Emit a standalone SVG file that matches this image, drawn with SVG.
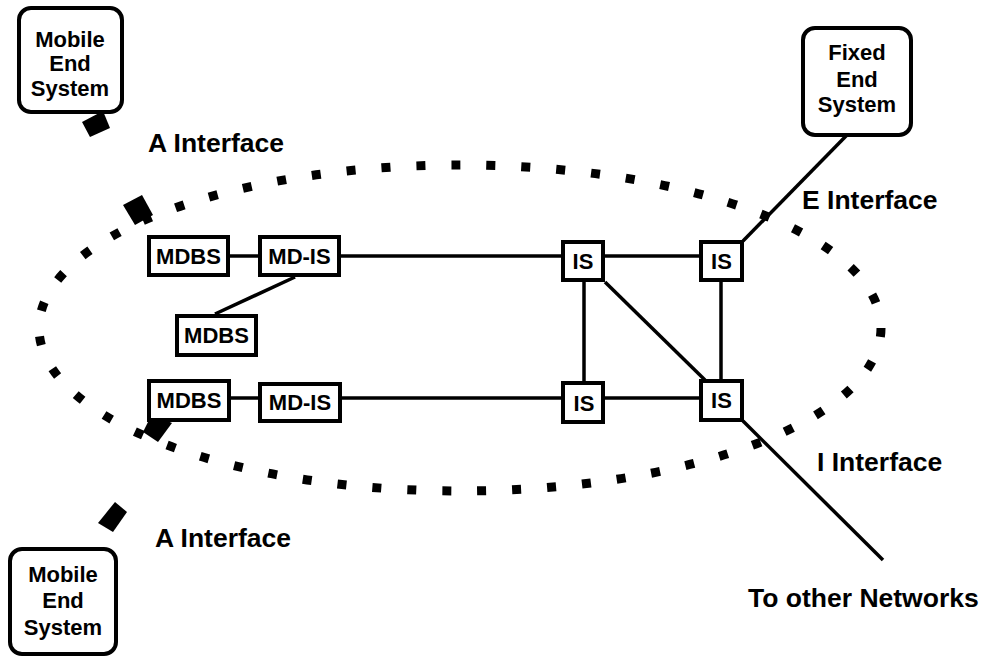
<svg xmlns="http://www.w3.org/2000/svg" width="985" height="657" viewBox="0 0 985 657">
<style>
.box{fill:#fff;stroke:#000;stroke-width:4}
.end{fill:#fff;stroke:#000;stroke-width:4}
.ln{stroke:#000;stroke-width:3.5;fill:none}
.lbl{font-family:"Liberation Sans",Arial,sans-serif;font-weight:bold;font-size:22px;text-anchor:middle;fill:#000}
.if{font-family:"Liberation Sans",Arial,sans-serif;font-weight:bold;font-size:26.5px;fill:#000}
.dots{fill:none;stroke:#000;stroke-width:9;stroke-dasharray:9 26}
.mark{fill:#000}
</style>
<rect width="985" height="657" fill="#fff"/>
<ellipse class="dots" cx="460" cy="328" rx="421" ry="163"/>
<g id="connectors">
<line class="ln" x1="228" y1="256" x2="260" y2="256"/>
<line class="ln" x1="339" y1="256" x2="563" y2="256"/>
<line class="ln" x1="295" y1="277" x2="215" y2="314"/>
<line class="ln" x1="229" y1="398" x2="260" y2="398"/>
<line class="ln" x1="340" y1="398" x2="563" y2="398"/>
<line class="ln" x1="603" y1="256" x2="701" y2="256"/>
<line class="ln" x1="603" y1="398" x2="701" y2="398"/>
<line class="ln" x1="584" y1="282" x2="584" y2="381"/>
<line class="ln" x1="721" y1="282" x2="721" y2="379"/>
<line class="ln" x1="605" y1="282" x2="705" y2="380"/>
<line class="ln" x1="743" y1="241" x2="847" y2="135"/>
<line class="ln" x1="743" y1="421" x2="883" y2="560"/>
</g>
<g id="a-interface-top">
<polygon class="mark" points="82,122 103,111 110,128 90,137"/>
<polygon class="mark" points="123,205 142,195 153,215 135,225"/>
</g>
<g id="a-interface-bottom">
<polygon class="mark" points="143,432 152,414 172,423 158,442"/>
<polygon class="mark" points="98,523 115,502 127,512 113,532"/>
</g>
<g id="mobile-top">
<rect class="end" x="19" y="8" width="103" height="104" rx="12"/>
<text class="lbl" x="70" y="47">Mobile</text>
<text class="lbl" x="70" y="71">End</text>
<text class="lbl" x="70" y="96">System</text>
</g>
<g id="mobile-bottom">
<rect class="end" x="10" y="549" width="106" height="105" rx="12"/>
<text class="lbl" x="63" y="582">Mobile</text>
<text class="lbl" x="63" y="608">End</text>
<text class="lbl" x="63" y="635">System</text>
</g>
<g id="fixed">
<rect class="end" x="803" y="28" width="108" height="107" rx="12"/>
<text class="lbl" x="857" y="60">Fixed</text>
<text class="lbl" x="857" y="87">End</text>
<text class="lbl" x="857" y="112">System</text>
</g>
<g id="mdbs1">
<rect class="box" x="149" y="237" width="79" height="38"/>
<text class="lbl" x="188.5" y="264">MDBS</text>
</g>
<g id="mdis1">
<rect class="box" x="260" y="237" width="79" height="38"/>
<text class="lbl" x="299.5" y="264">MD-IS</text>
</g>
<g id="mdbs2">
<rect class="box" x="177" y="316" width="79" height="39"/>
<text class="lbl" x="216.5" y="343">MDBS</text>
</g>
<g id="mdbs3">
<rect class="box" x="149" y="381" width="80" height="39"/>
<text class="lbl" x="189" y="408">MDBS</text>
</g>
<g id="mdis2">
<rect class="box" x="260" y="384" width="80" height="37"/>
<text class="lbl" x="300" y="410">MD-IS</text>
</g>
<g id="is1">
<rect class="box" x="563" y="242" width="40" height="38"/>
<text class="lbl" x="583" y="269">IS</text>
</g>
<g id="is2">
<rect class="box" x="701" y="242" width="41" height="38"/>
<text class="lbl" x="721.5" y="269">IS</text>
</g>
<g id="is3">
<rect class="box" x="563" y="383" width="40" height="39"/>
<text class="lbl" x="584" y="411">IS</text>
</g>
<g id="is4">
<rect class="box" x="701" y="381" width="41" height="39"/>
<text class="lbl" x="721.5" y="408">IS</text>
</g>
<g id="labels">
<text class="if" x="148" y="152">A Interface</text>
<text class="if" x="802" y="209">E Interface</text>
<text class="if" x="817" y="471">I Interface</text>
<text class="if" x="155" y="547">A Interface</text>
<text class="if" x="748" y="607">To other Networks</text>
</g>
</svg>
